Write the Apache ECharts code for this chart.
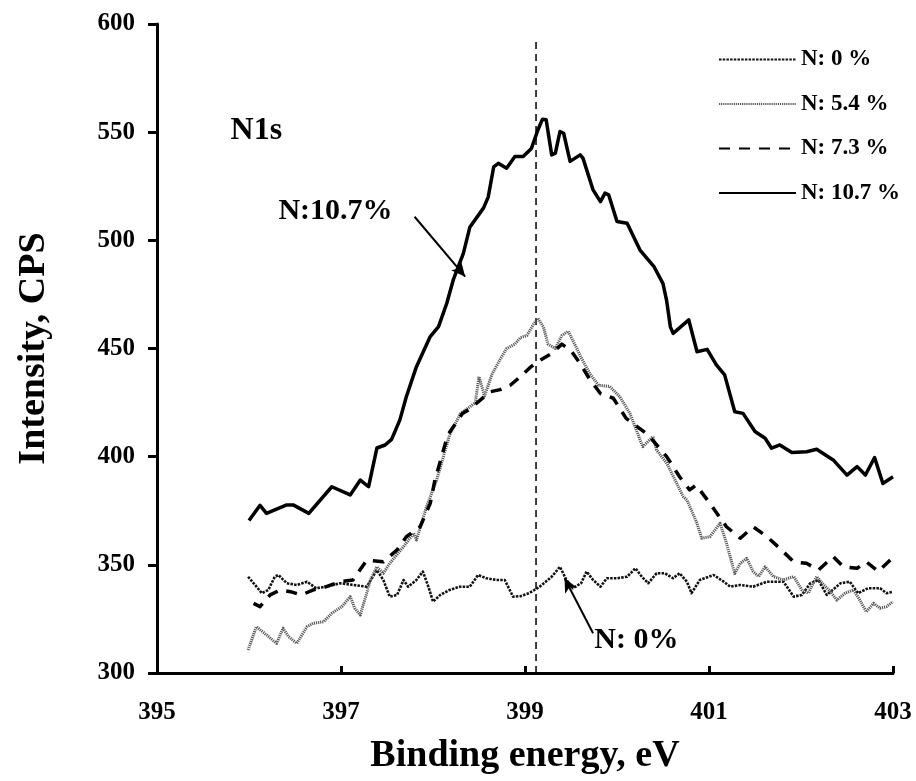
<!DOCTYPE html>
<html>
<head>
<meta charset="utf-8">
<script src="https://cdn.jsdelivr.net/npm/echarts@6/dist/echarts.min.js"></script>
<style>html,body{margin:0;padding:0;background:#fff;}#chart{width:916px;height:781px;}</style>
</head>
<body>
<div id="chart"></div>
<script>
// Binding energy (eV) / intensity (CPS) pairs
const seriesNames = ['N: 0 %', 'N: 5.4 %', 'N: 7.3 %', 'N: 10.7 %'];
const xTicks = [395, 397, 399, 401, 403];
const yTicks = [300, 350, 400, 450, 500, 550, 600];

const n0 = [[395.99,344.5],[396.05,341.5],[396.14,336.9],[396.21,338.4],[396.28,344.5],[396.32,345.3],[396.41,341.5],[396.52,340.7],[396.63,342.2],[396.73,339.2],[396.84,339.9],[396.99,341.5],[397.13,340.7],[397.28,339.9],[397.39,347.6],[397.46,343],[397.53,335.3],[397.61,336.1],[397.68,343],[397.73,339.9],[397.82,343],[397.89,346.9],[397.95,339.9],[398.00,333],[398.08,336.1],[398.18,338.4],[398.29,339.9],[398.40,339.9],[398.49,345.3],[398.58,343.8],[398.69,343],[398.78,343],[398.87,335.3],[398.95,335.5],[399.05,337],[399.16,339.9],[399.29,344.5],[399.38,349.1],[399.45,343],[399.52,339.2],[399.61,341.5],[399.67,346.9],[399.74,343],[399.82,339.9],[399.89,343.8],[400.00,343.8],[400.11,344.5],[400.20,348.4],[400.27,344.5],[400.34,341.5],[400.43,346.1],[400.52,346.1],[400.61,343.8],[400.68,346.1],[400.76,342.2],[400.81,336.9],[400.90,343],[401.05,345.3],[401.16,342.2],[401.23,339.9],[401.34,340.7],[401.48,339.9],[401.63,342.2],[401.81,342.2],[401.92,335.3],[402.01,336.1],[402.10,341.5],[402.19,343],[402.28,336.1],[402.43,341.5],[402.53,342.2],[402.62,336.9],[402.73,339.2],[402.86,339.2],[402.93,336.9],[403.00,337.6]];

const n54 = [[395.99,310.6],[396.08,321.4],[396.19,317.6],[396.30,313.7],[396.37,320.7],[396.43,316.8],[396.52,313.7],[396.63,321.4],[396.70,323],[396.81,323.7],[396.90,327.6],[397.01,330.7],[397.10,335.3],[397.15,329.9],[397.21,326.8],[397.32,343],[397.39,349.1],[397.46,346.1],[397.53,350.7],[397.68,358.4],[397.79,364.6],[397.82,361.5],[397.93,376.9],[398.04,389.2],[398.18,410],[398.30,420],[398.40,423],[398.46,425],[398.50,437],[398.56,428],[398.64,438],[398.73,445],[398.80,450],[398.89,452],[398.95,455],[399.02,456],[399.09,461],[399.14,464],[399.20,460],[399.25,452],[399.33,450],[399.40,456],[399.47,458],[399.54,452],[399.62,445],[399.71,438],[399.80,433],[399.92,432.5],[400.03,427.8],[400.14,420],[400.21,412.3],[400.28,404.6],[400.39,409.3],[400.43,403.1],[400.54,397],[400.65,387.6],[400.72,381.5],[400.76,380],[400.87,369.2],[400.92,362.3],[401.01,363],[401.12,369.2],[401.19,360],[401.28,346],[401.34,350.7],[401.41,353],[401.48,346.9],[401.54,344.6],[401.61,349.1],[401.70,344.6],[401.81,343],[401.92,344.6],[402.01,338.4],[402.08,336.9],[402.17,344.6],[402.23,341.5],[402.32,337.6],[402.39,333.7],[402.48,336.9],[402.57,338.4],[402.64,333.7],[402.71,328.3],[402.79,332.2],[402.86,329.9],[402.93,330.7],[403.00,333]];

const n73 = [[396.05,332.2],[396.12,330.7],[396.23,336.1],[396.34,338.4],[396.45,337.6],[396.57,336.1],[396.70,338.4],[396.84,339.9],[396.99,342.2],[397.13,343],[397.28,352.2],[397.46,351.4],[397.61,356.9],[397.71,363],[397.86,367.6],[397.97,378.4],[398.02,389],[398.16,410],[398.32,420],[398.40,422],[398.51,426],[398.62,430],[398.73,431],[398.84,433],[398.95,437],[399.05,441],[399.14,444],[399.22,446],[399.30,448],[399.40,452],[399.50,449],[399.60,443],[399.70,436],[399.82,429.2],[399.96,427],[400.10,417.7],[400.34,410],[400.54,400],[400.68,390.7],[400.79,384.6],[400.86,386.9],[401.01,378.4],[401.19,367.6],[401.34,362.3],[401.48,367.6],[401.63,363],[401.77,357.6],[401.92,351.4],[402.06,350.7],[402.19,347.6],[402.35,353.8],[402.46,349.1],[402.61,348.4],[402.71,351.4],[402.84,346.9],[402.97,352.2]];

const n107 = [[396.00,370.5],[396.12,377.5],[396.19,373.8],[396.41,377.7],[396.48,377.7],[396.65,373.8],[396.90,386.1],[397.10,382.3],[397.21,389.2],[397.30,386.1],[397.39,404],[397.48,405.4],[397.55,408],[397.64,417],[397.71,427.7],[397.82,441.6],[397.97,455.5],[398.06,460.1],[398.15,470.9],[398.22,481.7],[398.33,494],[398.40,506],[398.55,515],[398.60,520],[398.66,534],[398.71,535.6],[398.80,533.3],[398.89,538.7],[398.98,538.7],[399.07,542.5],[399.14,551],[399.19,556],[399.23,555.7],[399.29,539.5],[399.33,540.3],[399.38,550.3],[399.42,549.5],[399.49,536.5],[399.60,539.5],[399.63,538],[399.74,523.3],[399.82,517.9],[399.87,521.8],[399.91,521],[400.00,508.7],[400.11,507.9],[400.25,495.5],[400.40,488],[400.50,480],[400.54,472],[400.58,460],[400.61,457],[400.78,463.2],[400.87,448.5],[400.98,449.6],[401.08,442.4],[401.17,437.8],[401.28,420.8],[401.37,420],[401.50,411.6],[401.61,408.5],[401.68,403.9],[401.77,405.4],[401.90,401.9],[402.06,402.3],[402.17,403.4],[402.35,398.5],[402.50,391.5],[402.61,395.4],[402.70,391.5],[402.80,399.6],[402.89,387.6],[403.00,390.7]];

const peakLine = [[399.12, 300], [399.12, 593]];
const annotations = [
  {text: 'N1s', at: [396.08, 550.6], size: 32},
  {text: 'N:10.7%', at: [396.94, 513.6], size: 30},
  {text: 'N: 0%', at: [400.21, 315.3], size: 30}
];
const arrows = [
  [[397.80, 510.9], [398.35, 483.2]],
  [[399.74, 318.4], [399.43, 343.8]]
];

const FONT = '"Liberation Serif", "Times New Roman", serif';
const chart = echarts.init(document.getElementById('chart'), null, {renderer: 'canvas'});

const styles = [
  {color: '#111', width: 2.6, type: [2.5, 1.2]},
  {color: '#5a5a5a', width: 3, type: [1.2, 0.9]},
  {color: '#000', width: 3.5, type: [11, 9]},
  {color: '#000', width: 3.5, type: 'solid'}
];
const datasets = [n0, n54, n73, n107];

const series = datasets.map((d, i) => ({
  name: seriesNames[i],
  type: 'line',
  data: d,
  showSymbol: false,
  symbol: 'none',
  smooth: false,
  z: 2 + i,
  lineStyle: {color: styles[i].color, width: styles[i].width, type: styles[i].type, join: 'round'},
  itemStyle: {color: styles[i].color}
}));

series.push({
  name: 'annot',
  type: 'line',
  data: [],
  symbol: 'none',
  z: 10,
  markLine: {
    silent: true,
    symbol: ['none', 'arrow'],
    symbolSize: [10, 14],
    label: {show: false},
    lineStyle: {color: '#000', width: 2, type: 'solid'},
    data: arrows.map(a => [{coord: a[0]}, {coord: a[1]}])
  },
  markPoint: {
    silent: true,
    symbol: 'circle',
    symbolSize: 0,
    itemStyle: {color: 'transparent'},
    data: annotations.map(a => ({
      coord: a.at,
      label: {show: true, position: 'inside', formatter: a.text, color: '#000',
              fontFamily: FONT, fontWeight: 'bold', fontSize: a.size}
    }))
  }
});
series.push({
  name: 'peak',
  type: 'line',
  data: peakLine,
  symbol: 'none',
  z: 1,
  lineStyle: {color: '#000', width: 1.5, type: [7, 5]}
});

chart.setOption({
  animation: false,
  backgroundColor: '#fff',
  grid: {left: 157, right: 23, top: 24, bottom: 108, containLabel: false},
  legend: {
    data: seriesNames,
    orient: 'vertical',
    left: 713,
    top: 43,
    itemWidth: 77,
    itemHeight: 14,
    itemGap: 21.5,
    itemStyle: {opacity: 0},
    textStyle: {fontFamily: FONT, fontWeight: 'bold', fontSize: 23, color: '#000'}
  },
  xAxis: {
    type: 'value', min: 395, max: 403, interval: 2,
    name: 'Binding energy, eV', nameLocation: 'middle', nameGap: 64,
    nameTextStyle: {fontFamily: FONT, fontWeight: 'bold', fontSize: 38, color: '#000'},
    axisLine: {show: true, lineStyle: {color: '#000', width: 3}},
    axisTick: {show: true, inside: true, length: 7, lineStyle: {color: '#000', width: 3}},
    axisLabel: {margin: 27, fontFamily: FONT, fontWeight: 'bold', fontSize: 25, color: '#000',
      formatter: v => xTicks.includes(v) ? String(v) : ''},
    splitLine: {show: false}
  },
  yAxis: {
    type: 'value', min: 300, max: 600, interval: 50,
    name: 'Intensity, CPS', nameLocation: 'middle', nameGap: 104, nameRotate: 90,
    nameTextStyle: {fontFamily: FONT, fontWeight: 'bold', fontSize: 38, color: '#000'},
    axisLine: {show: true, lineStyle: {color: '#000', width: 3}},
    axisTick: {show: true, inside: false, length: 9, lineStyle: {color: '#000', width: 3}},
    axisLabel: {margin: 22, fontFamily: FONT, fontWeight: 'bold', fontSize: 25, color: '#000',
      formatter: v => yTicks.includes(v) ? String(v) : ''},
    splitLine: {show: false}
  },
  series: series
});
</script>
</body>
</html>
